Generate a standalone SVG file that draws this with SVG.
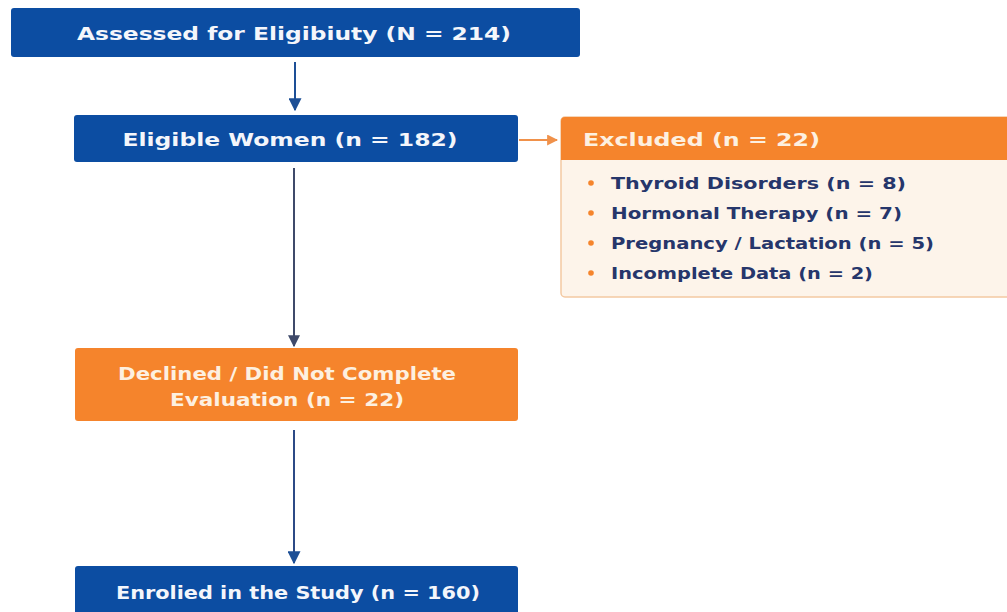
<svg xmlns="http://www.w3.org/2000/svg" width="1007" height="612" viewBox="0 0 1007 612">
<defs>
<style>
.blue{fill:#0c4da2;}
.orange{fill:#f5842c;}
.t{font-family:"DejaVu Sans","Liberation Sans",sans-serif;font-weight:bold;font-size:18px;fill:#f4f6fb;text-anchor:middle;}
.to{fill:#fdf0e0;}
.li{font-family:"DejaVu Sans","Liberation Sans",sans-serif;font-weight:bold;font-size:16.5px;fill:#26366b;}
.ln{stroke:#3f4a6a;stroke-width:2;fill:none;}
.dot{fill:#f5842c;}
</style>
<marker id="ah" viewBox="0 0 10 10" refX="9" refY="5" markerWidth="12" markerHeight="12" markerUnits="userSpaceOnUse" orient="auto">
<path d="M0,0 L10,5 L0,10 z" fill="#3f4a6a"/>
</marker>
<marker id="ahb" viewBox="0 0 10 10" refX="9" refY="5" markerWidth="13" markerHeight="13" markerUnits="userSpaceOnUse" orient="auto">
<path d="M0,0 L10,5 L0,10 z" fill="#1d4f96"/>
</marker>
<marker id="aho" viewBox="0 0 10 10" refX="9" refY="5" markerWidth="11" markerHeight="11" markerUnits="userSpaceOnUse" orient="auto">
<path d="M0,0 L10,5 L0,10 z" fill="#f0914a"/>
</marker>
</defs>
<rect width="1007" height="612" fill="#ffffff"/>
<g id="connectors">
<line x1="295" y1="62" x2="295" y2="110" stroke="#1d4f96" stroke-width="2" marker-end="url(#ahb)"/>
<line x1="519" y1="140" x2="557" y2="140" stroke="#f0914a" stroke-width="2" marker-end="url(#aho)"/>
<line class="ln" x1="294" y1="168" x2="294" y2="346" marker-end="url(#ah)"/>
<line x1="294" y1="430" x2="294" y2="563" stroke="#2c4a86" stroke-width="2" marker-end="url(#ahb)"/>
</g>
<g id="assessed">
<rect class="blue" x="11" y="8" width="569" height="49" rx="3"/>
<text class="t" x="294" y="40" textLength="434" lengthAdjust="spacingAndGlyphs">Assessed for Eligibiuty (N = 214)</text>
</g>
<g id="eligible">
<rect class="blue" x="74" y="115" width="444" height="47" rx="3"/>
<text class="t" x="290" y="146" textLength="335" lengthAdjust="spacingAndGlyphs">Eligible Women (n = 182)</text>
</g>
<g id="excluded">
<rect x="561" y="117" width="452" height="180" rx="4" fill="#fdf4ea" stroke="#f3c9a2" stroke-width="1.5"/>
<path d="M561,160 V121 a4,4 0 0 1 4,-4 H1013 V160 z" class="orange"/>
<text class="t to" x="583" y="146" style="text-anchor:start" textLength="237" lengthAdjust="spacingAndGlyphs">Excluded (n = 22)</text>
<circle class="dot" cx="591" cy="183" r="2.8"/>
<circle class="dot" cx="591" cy="213" r="2.8"/>
<circle class="dot" cx="591" cy="243" r="2.8"/>
<circle class="dot" cx="591" cy="273" r="2.8"/>
<text class="li" x="611" y="189" textLength="295" lengthAdjust="spacingAndGlyphs">Thyroid Disorders (n = 8)</text>
<text class="li" x="611" y="219" textLength="291" lengthAdjust="spacingAndGlyphs">Hormonal Therapy (n = 7)</text>
<text class="li" x="611" y="249" textLength="323" lengthAdjust="spacingAndGlyphs">Pregnancy / Lactation (n = 5)</text>
<text class="li" x="611" y="279" textLength="262" lengthAdjust="spacingAndGlyphs">Incomplete Data (n = 2)</text>
</g>
<g id="declined">
<rect class="orange" x="75" y="348" width="443" height="73" rx="3"/>
<text class="t to" x="287" y="380" textLength="338" lengthAdjust="spacingAndGlyphs">Declined / Did Not Complete</text>
<text class="t to" x="287" y="406" textLength="234" lengthAdjust="spacingAndGlyphs">Evaluation (n = 22)</text>
</g>
<g id="enrolled">
<rect class="blue" x="75" y="566" width="443" height="52" rx="3"/>
<text class="t" x="298" y="599" textLength="364" lengthAdjust="spacingAndGlyphs">Enrolied in the Study (n = 160)</text>
</g>
</svg>
